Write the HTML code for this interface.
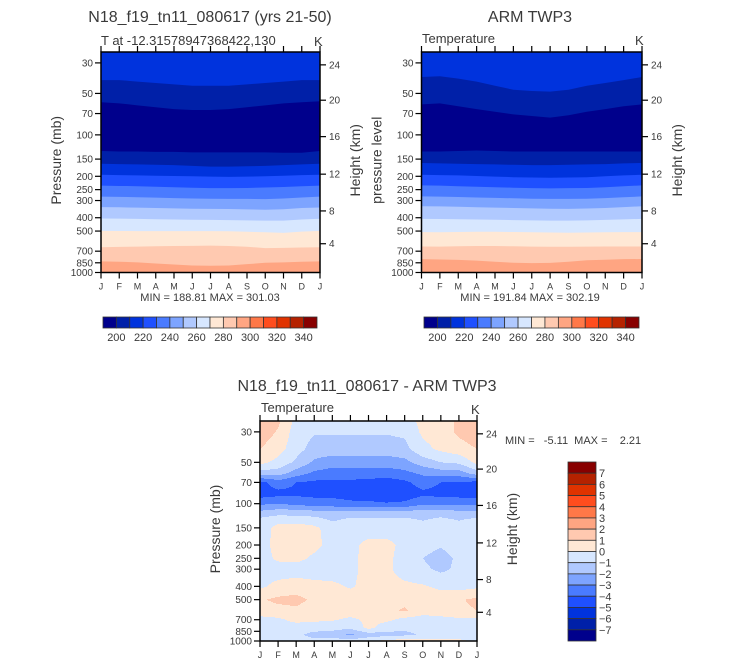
<!DOCTYPE html>
<html><head><meta charset="utf-8">
<style>
html,body{margin:0;padding:0;background:#fff;}
svg{display:block;font-family:"Liberation Sans",sans-serif;}
text{fill:#3a3a3a;}
</style></head>
<body>
<svg id="s" width="733" height="665" viewBox="0 0 733 665" xmlns="http://www.w3.org/2000/svg"></svg>
<script>
// ---------- data ----------
const months = ["J","F","M","A","M","J","J","A","S","O","N","D","J"];
const pressureTicks = [30,50,70,100,150,200,250,300,400,500,700,850,1000];
const heightTicks = [24,20,16,12,8,4];
const heightTickPressure = [31,56,103,193,357,618];
const palette = ["#00008C","#0020A8","#0033DD","#1F50FF","#4A7BFF","#7DA4FF","#B0C9FF","#D7E7FF","#FFE8D5","#FFC9B0","#FFA582","#FF7848","#FF4D1E","#E03300","#B52200","#880000"];
const tempBarLabels = [200,220,240,260,280,300,320,340];
const diffBarLabels = [7,6,5,4,3,2,1,0,-1,-2,-3,-4,-5,-6,-7];

// model (top-left)
const modelTopBand = 210;
const modelBelowBand = [200,190,200,210,220,230,240,250,260,270,280,290];
const modelB1 = [40,40,41,42,43,44,44,44,43,42,41,40,40];
const modelB2 = [58,59,61,63,65,66,66,65,63,61,59,58,57];
const modelB3 = [131,132,132,133,133,134,134,134,134,134,135,135,131];
const modelB4 = [162,163,164,165,166,168,170,170,169,168,166,164,162];
const modelB5 = [195,196,197,198,199,200,201,202,201,200,198,196,195];
const modelB6 = [234,235,236,238,240,242,244,244,243,241,239,236,234];
const modelB7 = [281,282,284,286,288,290,291,292,292,293,290,285,281];
const modelB8 = [335,336,338,340,342,344,345,346,348,350,347,340,337];
const modelB9 = [405,406,408,410,412,414,415,416,418,420,420,412,407];
const modelB10 = [498,499,500,500,500,500,500,502,506,510,515,505,498];
const modelB11 = [655,652,648,645,642,640,638,642,650,665,662,658,656];
const modelB12 = [830,835,845,860,875,890,894,890,870,850,845,835,830];

// ARM (top-right)
const armTopBand = 210;
const armBelowBand = [200,190,200,210,220,230,240,250,260,270,280,290];
const armB1 = [38,37.5,39,41,44,47,48,48.5,47,44,42,40,38];
const armB2 = [60,59,62,65,68,71,73,75,72,68,65,62,60];
const armB3 = [132,132,131,130,131,132,132,132,132,132,132,132,132];
const armB4 = [160,161,162,163,164,165,166,166,165,164,163,161,160];
const armB5 = [195,196,197,199,201,203,204,205,204,203,200,197,195];
const armB6 = [233,234,236,238,240,242,244,245,244,243,240,236,233];
const armB7 = [280,281,283,285,287,289,291,292,292,291,288,284,280];
const armB8 = [330,331,333,336,338,340,342,344,345,343,340,335,330];
const armB9 = [408,409,410,412,414,416,418,420,420,418,415,411,408];
const armB10 = [509,510,508,506,506,508,510,512,514,512,510,509,509];
const armB11 = [647,648,645,642,642,645,648,650,650,648,647,647,647];
const armB12 = [800,805,810,820,835,850,855,852,835,815,808,800,798];

// difference field (model - ARM)
const diffLevels = [25,30,40,50,60,70,85,100,115,130,150,200,250,300,400,500,600,700,800,900,1000];
const d025 = [1.8,1.2,-0.3,-0.5,-0.5,-0.5,-0.5,-0.5,-0.5,0.3,0.5,1.2,1.8];
const d030 = [1.6,0.9,-0.5,-0.9,-0.9,-0.9,-0.9,-0.9,-0.8,0.2,0.5,1.2,1.6];
const d040 = [1.0,0.4,-0.6,-1.4,-1.5,-1.5,-1.5,-1.5,-1.3,-0.3,0.2,0.6,1.0];
const d050 = [0.3,-0.3,-1.2,-2.2,-2.5,-2.5,-2.5,-2.5,-2.3,-1.5,-1.0,-0.8,0.3];
const d060 = [-1.5,-1.5,-2.5,-3.2,-3.5,-3.5,-3.5,-3.5,-3.3,-2.8,-2.5,-2.5,-1.5];
const d070 = [-4.3,-3.5,-4.0,-4.2,-4.2,-4.2,-4.3,-4.5,-4.2,-3.6,-4.0,-4.1,-4.3];
const d085 = [-4.5,-4.3,-4.2,-4.3,-4.3,-4.4,-4.5,-4.8,-4.6,-4.2,-4.3,-4.4,-4.5];
const d100 = [-3.2,-3.0,-3.3,-3.5,-3.6,-3.8,-3.8,-3.9,-3.8,-3.2,-3.3,-3.3,-3.2];
const d115 = [-1.8,-1.5,-1.5,-1.7,-1.8,-1.8,-1.8,-1.8,-1.8,-1.5,-1.5,-1.8,-1.8];
const d130 = [-0.8,-0.4,-0.5,-0.6,-1.2,-0.8,-0.8,-0.8,-0.8,-1.1,-0.8,-1.1,-0.8];
const d150 = [-0.5,0.3,0.5,0.2,-0.4,-0.5,-0.5,-0.5,-0.5,-0.5,-0.5,-0.5,-0.5];
const d200 = [-0.5,0.4,0.5,0.3,-0.4,-0.3,0.3,0.3,-0.3,-0.6,-0.9,-0.5,-0.5];
const d250 = [-0.5,0.2,0.3,-0.2,-0.5,-0.3,0.4,0.3,-0.5,-1.0,-1.4,-0.8,-0.5];
const d300 = [-0.5,-0.5,-0.5,-0.5,-0.5,-0.3,0.4,0.2,-0.4,-0.8,-1.2,-0.8,-0.5];
const d400 = [-0.2,0.3,0.5,0.3,0.2,-0.1,0.3,0.3,0.2,0.1,-0.2,-0.4,-0.2];
const d500 = [0.9,1.2,1.3,0.8,0.6,0.5,0.5,0.6,0.8,0.6,0.5,0.9,1.2];
const d600 = [0.5,0.7,0.8,0.5,0.5,0.5,0.6,0.8,1.1,0.5,0.5,0.8,1.0];
const d700 = [-0.3,-0.2,0.3,0.2,0.1,-0.2,0.2,0.2,-0.3,-0.5,-0.3,-0.2,-0.3];
const d800 = [-0.5,-0.5,-0.5,-0.6,-0.6,-0.8,0.3,-0.5,-0.8,-0.8,-0.6,-0.5,-0.5];
const d900 = [-0.5,-0.6,-0.8,-1.3,-1.5,-2.2,-1.5,-1.4,-1.2,-0.9,-0.6,-0.5,-0.5];
const d1000 = [-0.2,-0.3,-0.5,-0.8,-0.5,-0.5,-0.3,0.3,0.5,0.5,0.3,0.2,-0.2];

// ---------- drawing ----------
const NS = "http://www.w3.org/2000/svg";
const svg = document.getElementById('s');
function el(tag, attrs, parent){
  const e = document.createElementNS(NS, tag);
  for (const k in attrs) e.setAttribute(k, attrs[k]);
  (parent||svg).appendChild(e);
  return e;
}
function txt(str, x, y, size, anchor, parent, rot){
  const t = el('text', {x:x, y:y, 'font-size':size, 'text-anchor':anchor||'start'}, parent);
  if (rot) t.setAttribute('transform', 'rotate(-90 '+x+' '+y+')');
  t.textContent = str;
  return t;
}
function makeAxes(x0, w, yTop, yBot){
  const k = (yBot - yTop) / Math.log(1000/25);
  return {
    x: m => x0 + m * w / 12,
    y: p => yBot - Math.log(1000/p) * k,
    x0:x0, w:w, yTop:yTop, yBot:yBot
  };
}
function tempColor(t){ return palette[Math.max(0, Math.min(15, Math.floor((t - 190)/10)))]; }
function diffColor(v){ return palette[Math.max(0, Math.min(15, Math.floor(v) + 8))]; }

function drawFrame(ax, g, opts){
  const {x, y, x0, w, yTop, yBot} = ax;
  months.forEach((m, i) => {
    const xi = x(i);
    const tb = el('line', {x1:xi, y1:yBot, x2:xi, y2:yBot+6, stroke:'#000', 'stroke-width':1.2}, g);
    
    
    const tt = el('line', {x1:xi, y1:yTop, x2:xi, y2:yTop-6, stroke:'#000', 'stroke-width':1.2}, g);
    
    
    const lab = txt(m, xi, yBot+17, 9, 'middle', g);
    
    
  });
  pressureTicks.forEach(p => {
    const yi = y(p);
    const t = el('line', {x1:x0-6, y1:yi, x2:x0, y2:yi, stroke:'#000', 'stroke-width':1.2}, g);
    
    
    const lab = txt(String(p), x0-8, yi+3.5, 10, 'end', g);
    
    
  });
  heightTicks.forEach((h, i) => {
    const yi = y(heightTickPressure[i]);
    const t = el('line', {x1:x0+w, y1:yi, x2:x0+w+6, y2:yi, stroke:'#000', 'stroke-width':1.2}, g);
    
    
    const lab = txt(String(h), x0+w+9, yi+3.5, 10, 'start', g);
    
    
  });
  const fr = el('rect', {x:x0, y:yTop, width:w, height:yBot-yTop, fill:'none', stroke:'#000', 'stroke-width':1.5}, g);
  
  
  const yl = txt(opts.yTitle, x0-40, (yTop+yBot)/2 - 2, 14, 'middle', g, true);
  
  
  const yr = txt('Height (km)', x0+w+40, (yTop+yBot)/2 - 2, 14, 'middle', g, true);
  
  
}

function drawBands(ax, g, topBand, belowBands, boundaries){
  const {x, y, x0, w, yTop, yBot} = ax;
  const bg = el('rect', {x:x0, y:yTop, width:w, height:yBot-yTop, fill:tempColor(topBand)}, g);
  
  
  boundaries.forEach((b, i) => {
    let d = 'M' + x(0) + ',' + yBot;
    b.forEach((p, m) => { d += ' L' + x(m).toFixed(2) + ',' + Math.min(yBot, y(p)).toFixed(2); });
    d += ' L' + x(12) + ',' + yBot + ' Z';
    const path = el('path', {d:d, fill:tempColor(belowBands[i])}, g);
    
    
  });
}

function drawColorbarH(x0, y0, w, h, g){
  const bw = w/16;
  palette.forEach((c, i) => {
    const r = el('rect', {x:x0+i*bw, y:y0, width:bw, height:h, fill:c, stroke:'#333', 'stroke-width':0.8}, g);
    
    
  });
  tempBarLabels.forEach((v, i) => {
    const t = txt(String(v), x0 + (2*i+1)*bw, y0+h+13, 11, 'middle', g);
    
    
  });
}

// ---- top-left panel ----
const gL = el('g', {});  
const axL = makeAxes(101, 219, 52, 272.5);
drawBands(axL, gL, modelTopBand, modelBelowBand, [modelB1,modelB2,modelB3,modelB4,modelB5,modelB6,modelB7,modelB8,modelB9,modelB10,modelB11,modelB12]);
drawFrame(axL, gL, {yTitle:'Pressure (mb)'});
let t;
t = txt('N18_f19_tn11_080617 (yrs 21-50)', 210, 22, 16, 'middle', gL);  
t = txt('T at -12.31578947368422,130', 101, 45, 13, 'start', gL);  
t = txt('K', 314, 46, 13, 'start', gL);  
t = txt('MIN = 188.81 MAX = 301.03', 210, 301, 11, 'middle', gL);  
drawColorbarH(103, 317, 214, 11, gL);

// ---- top-right panel ----
const gR = el('g', {});  
const axR = makeAxes(421.5, 220.5, 52, 272.5);
drawBands(axR, gR, armTopBand, armBelowBand, [armB1,armB2,armB3,armB4,armB5,armB6,armB7,armB8,armB9,armB10,armB11,armB12]);
drawFrame(axR, gR, {yTitle:'pressure level'});
t = txt('ARM TWP3', 530, 22, 16, 'middle', gR);  
t = txt('Temperature', 422, 43, 13, 'start', gR);  
t = txt('K', 635, 45, 13, 'start', gR);  
t = txt('MIN = 191.84 MAX = 302.19', 530, 301, 11, 'middle', gR);  
drawColorbarH(424, 317, 215, 11, gR);

// ---- bottom difference panel ----
const gD = el('g', {});  
const axD = makeAxes(260, 217, 421, 641);
const diffRows = [d025,d030,d040,d050,d060,d070,d085,d100,d115,d130,d150,d200,d250,d300,d400,d500,d600,d700,d800,d900,d1000];
(function(){
  const {x, y, x0, w, yTop, yBot} = axD;
  const lnL = diffLevels.map(p => Math.log(p));
  function val(mx, lp){
    let i = 0; while (i < lnL.length-2 && lp > lnL[i+1]) i++;
    const fy = Math.max(0, Math.min(1, (lp - lnL[i])/(lnL[i+1]-lnL[i])));
    const j = Math.max(0, Math.min(11, Math.floor(mx)));
    const fx = Math.max(0, Math.min(1, mx - j));
    const a = diffRows[i][j]*(1-fx) + diffRows[i][j+1]*fx;
    const b = diffRows[i+1][j]*(1-fx) + diffRows[i+1][j+1]*fx;
    return a*(1-fy) + b*fy;
  }
  const k = (yBot - yTop)/Math.log(1000/25);
  for (let py = yTop; py < yBot; py += 1){
    const lp = Math.log(1000) - (yBot - (py+0.5))/k;
    let runStart = x0, runCol = null;
    for (let px = x0; px <= x0 + w; px += 1){
      const col = px < x0 + w ? diffColor(val((px + 0.5 - x0) * 12 / w, lp)) : null;
      if (col !== runCol){
        if (runCol !== null){
          const r = el('rect', {x:runStart, y:py, width:px-runStart, height:1.05, fill:runCol}, gD);
          
          
        }
        runStart = px; runCol = col;
      }
    }
  }
})();
drawFrame(axD, gD, {yTitle:'Pressure (mb)'});
t = txt('N18_f19_tn11_080617 - ARM TWP3', 367, 391, 16, 'middle', gD);  
t = txt('Temperature', 261, 412, 13, 'start', gD);  
t = txt('K', 471, 414, 13, 'start', gD);  
t = txt('MIN =   -5.11  MAX =    2.21', 505, 444, 11, 'start', gD);  
t.setAttribute('xml:space','preserve'); t.style.whiteSpace = 'pre';
(function(){
  const x0 = 568, y0 = 462, w = 28, h = 179, bh = h/16;
  for (let i = 0; i < 16; i++){
    const r = el('rect', {x:x0, y:y0 + i*bh, width:w, height:bh, fill:palette[15-i], stroke:'#333', 'stroke-width':0.8}, gD);
    
    
  }
  diffBarLabels.forEach((v, i) => {
    const lab = txt(v < 0 ? '\u2212' + Math.abs(v) : String(v), 599, y0 + (i+1)*bh + 4, 11, 'start', gD);
    
    
  });
})();
</script>
</body></html>
